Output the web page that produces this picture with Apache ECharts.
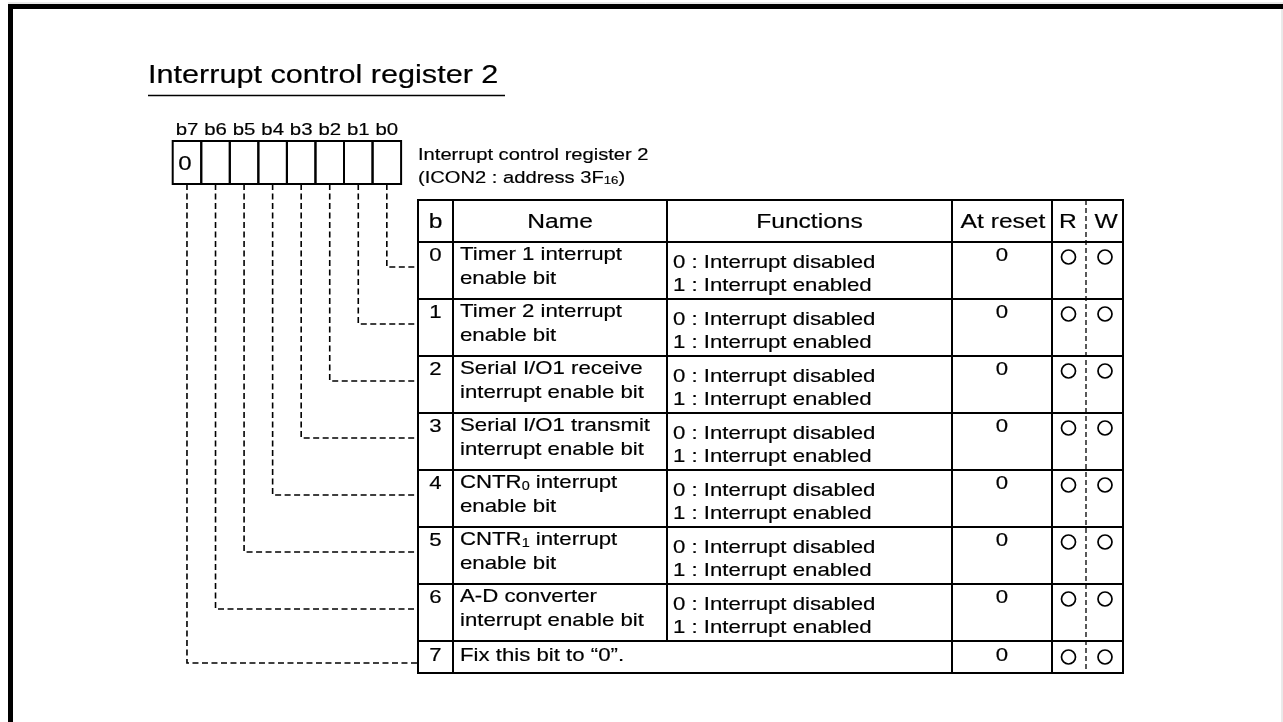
<!DOCTYPE html>
<html><head><meta charset="utf-8">
<script src="https://cdn.jsdelivr.net/npm/echarts@6/dist/echarts.min.js"></script>
<style>html,body{margin:0;padding:0;background:#fff}#c{width:1283px;height:722px}</style>
</head><body><div id="c"></div>
<script>
// ---- content ----
const titleText = 'Interrupt control register 2';
const captionLines = ['Interrupt control register 2', '(ICON2 : address 3F{16})'];
const bitLabels = ['b7', 'b6', 'b5', 'b4', 'b3', 'b2', 'b1', 'b0'];
const bitValues = ['0', '', '', '', '', '', '', ''];
const headers = ['b', 'Name', 'Functions', 'At reset', 'R', 'W'];
const bitNumbers = ['0', '1', '2', '3', '4', '5', '6', '7'];
const names = [
  ['Timer 1 interrupt', 'enable bit'],
  ['Timer 2 interrupt', 'enable bit'],
  ['Serial I/O1 receive', 'interrupt enable bit'],
  ['Serial I/O1 transmit', 'interrupt enable bit'],
  ['CNTR{0} interrupt', 'enable bit'],
  ['CNTR{1} interrupt', 'enable bit'],
  ['A-D converter', 'interrupt enable bit'],
  ['Fix this bit to “0”.']
];
const functions = [
  ['0 : Interrupt disabled', '1 : Interrupt enabled'],
  ['0 : Interrupt disabled', '1 : Interrupt enabled'],
  ['0 : Interrupt disabled', '1 : Interrupt enabled'],
  ['0 : Interrupt disabled', '1 : Interrupt enabled'],
  ['0 : Interrupt disabled', '1 : Interrupt enabled'],
  ['0 : Interrupt disabled', '1 : Interrupt enabled'],
  ['0 : Interrupt disabled', '1 : Interrupt enabled'],
  []
];
const resetValues = ['0', '0', '0', '0', '0', '0', '0', '0'];
const readable = [true, true, true, true, true, true, true, true];
const writable = [true, true, true, true, true, true, true, true];

// ---- layout ----
const W = 1283, H = 722;
const FF = 'Liberation Sans, Arial, sans-serif';
const SX = 1.2;
const REG = { x0: 172.7, y0: 141, cw: 28.55, h: 43 };
const COLS = [418, 453, 667, 952, 1052, 1086, 1123];
const TOP = 200, HEAD_H = 42, ROW_H = 57, LAST_H = 32;
function rowTop(i) { return TOP + HEAD_H + ROW_H * i; }
function rowH(i) { return i < 7 ? ROW_H : LAST_H; }

function rich(s) { return s.replace(/\{([^}]*)\}/g, '{s|$1}'); }
function T(api, x, y, s, size, align) {
  const p = api.coord([x, y]);
  return {
    type: 'text', x: p[0], y: p[1], scaleX: SX, scaleY: 1,
    style: {
      text: rich(s), x: 0, y: 0, fill: '#000', fontSize: size, fontFamily: FF,
      stroke: '#000', lineWidth: 0.18,
      align: align || 'left', verticalAlign: 'middle',
      textAlign: align || 'left', textVerticalAlign: 'middle',
      rich: { s: { fontSize: Math.round(size * 0.66), fontFamily: FF, fill: '#000', verticalAlign: 'bottom' } }
    }
  };
}
function R(api, x1, y1, x2, y2, style) {
  const a = api.coord([x1, y1]), b = api.coord([x2, y2]);
  return { type: 'rect', shape: { x: a[0], y: a[1], width: b[0] - a[0], height: b[1] - a[1] }, style: style };
}
function L(api, pts, style) {
  return { type: 'polyline', shape: { points: pts.map(q => api.coord(q)) }, style: Object.assign({ fill: null, stroke: '#000' }, style) };
}
function C(api, x, y) {
  const p = api.coord([x, y]);
  return { type: 'circle', shape: { cx: p[0], cy: p[1], r: 7 }, style: { fill: null, stroke: '#000', lineWidth: 1.7 } };
}
const box = { fill: null, stroke: '#000', lineWidth: 2 };

// frame, title, caption
function renderDecor(params, api) {
  const els = [];
  els.push(L(api, [[8, 3], [W, 3]], { stroke: '#d4d4d4', lineWidth: 1 }));
  els.push(L(api, [[W - 1, 4], [W - 1, H]], { stroke: '#d4d4d4', lineWidth: 1 }));
  els.push(R(api, 8, 4, W, 9, { fill: '#000' }));
  els.push(R(api, 8, 4, 13, H, { fill: '#000' }));
  els.push(T(api, 148, 76, titleText, 25.5, 'left'));
  els.push(L(api, [[148, 95.5], [505, 95.5]], { lineWidth: 1.5 }));
  els.push(T(api, 418, 155, captionLines[0], 16.8, 'left'));
  els.push(T(api, 418, 178, captionLines[1], 16.8, 'left'));
  return { type: 'group', children: els };
}

// register bit boxes with connectors
function renderBits(params, api) {
  const k = api.value(0);
  const x = REG.x0 + k * REG.cw, cx = x + REG.cw / 2;
  const row = 7 - k;
  const yr = rowTop(row) + (row < 7 ? 25 : 22);
  const els = [
    R(api, x, REG.y0, x + REG.cw, REG.y0 + REG.h, box),
    T(api, cx, 130.5, bitLabels[k], 17, 'center'),
    L(api, [[cx, REG.y0 + REG.h], [cx, yr], [COLS[0], yr]], { lineWidth: 1.6, lineDash: [6, 3.5] })
  ];
  if (bitValues[k]) els.push(T(api, x + 5.5, 164.5, bitValues[k], 20, 'left'));
  return { type: 'group', children: els };
}

// header row
function renderHeader(params, api) {
  const y1 = TOP, y2 = TOP + HEAD_H, cy = y1 + 22;
  const els = [];
  for (let c = 0; c < 4; c++) els.push(R(api, COLS[c], y1, COLS[c + 1], y2, box));
  els.push(R(api, COLS[4], y1, COLS[6], y2, box));
  els.push(T(api, (COLS[0] + COLS[1]) / 2, cy, headers[0], 20.5, 'center'));
  els.push(T(api, (COLS[1] + COLS[2]) / 2, cy, headers[1], 20.5, 'center'));
  els.push(T(api, (COLS[2] + COLS[3]) / 2, cy, headers[2], 20.5, 'center'));
  els.push(T(api, (COLS[3] + COLS[4]) / 2 + 1, cy, headers[3], 20.5, 'center'));
  els.push(T(api, 1068, cy, headers[4], 20.5, 'center'));
  els.push(T(api, 1106, cy, headers[5], 20.5, 'center'));
  els.push(L(api, [[COLS[5], TOP], [COLS[5], rowTop(7) + LAST_H]], { lineWidth: 1.3, lineDash: [5, 3] }));
  return { type: 'group', children: els };
}

// register rows
function renderRow(params, api) {
  const i = api.value(0);
  const y1 = rowTop(i), y2 = y1 + rowH(i);
  const last = i === 7;
  const cy = last ? y1 + 15 : y1 + 14;
  const els = [];
  els.push(R(api, COLS[0], y1, COLS[1], y2, box));
  if (last) {
    els.push(R(api, COLS[1], y1, COLS[3], y2, box));
  } else {
    els.push(R(api, COLS[1], y1, COLS[2], y2, box));
    els.push(R(api, COLS[2], y1, COLS[3], y2, box));
  }
  els.push(R(api, COLS[3], y1, COLS[4], y2, box));
  els.push(R(api, COLS[4], y1, COLS[6], y2, box));
  els.push(T(api, (COLS[0] + COLS[1]) / 2, cy, bitNumbers[i], 18.5, 'center'));
  names[i].forEach((s, j) => els.push(T(api, COLS[1] + 7, (last ? cy : y1 + 13) + j * 23.5, s, 18.5, 'left')));
  functions[i].forEach((s, j) => els.push(T(api, COLS[2] + 6, y1 + 21 + j * 23, s, 18.5, 'left')));
  els.push(T(api, (COLS[3] + COLS[4]) / 2, cy, resetValues[i], 18.5, 'center'));
  if (readable[i]) els.push(C(api, 1068.5, cy + 1));
  if (writable[i]) els.push(C(api, 1105, cy + 1));
  return { type: 'group', children: els };
}

const chart = echarts.init(document.getElementById('c'), null, { renderer: 'canvas' });
chart.setOption({
  animation: false,
  backgroundColor: '#fff',
  grid: { left: 0, right: 0, top: 0, bottom: 0 },
  xAxis: { type: 'value', min: 0, max: W, show: false },
  yAxis: { type: 'value', min: 0, max: H, inverse: true, show: false },
  series: [
    { type: 'custom', silent: true, renderItem: renderDecor, data: [[0]] },
    { type: 'custom', silent: true, renderItem: renderBits, data: bitLabels.map((b, k) => [k]) },
    { type: 'custom', silent: true, renderItem: renderRow, data: bitNumbers.map((b, i) => [i]) },
    { type: 'custom', silent: true, renderItem: renderHeader, data: [[0]] }
  ]
});
</script></body></html>
